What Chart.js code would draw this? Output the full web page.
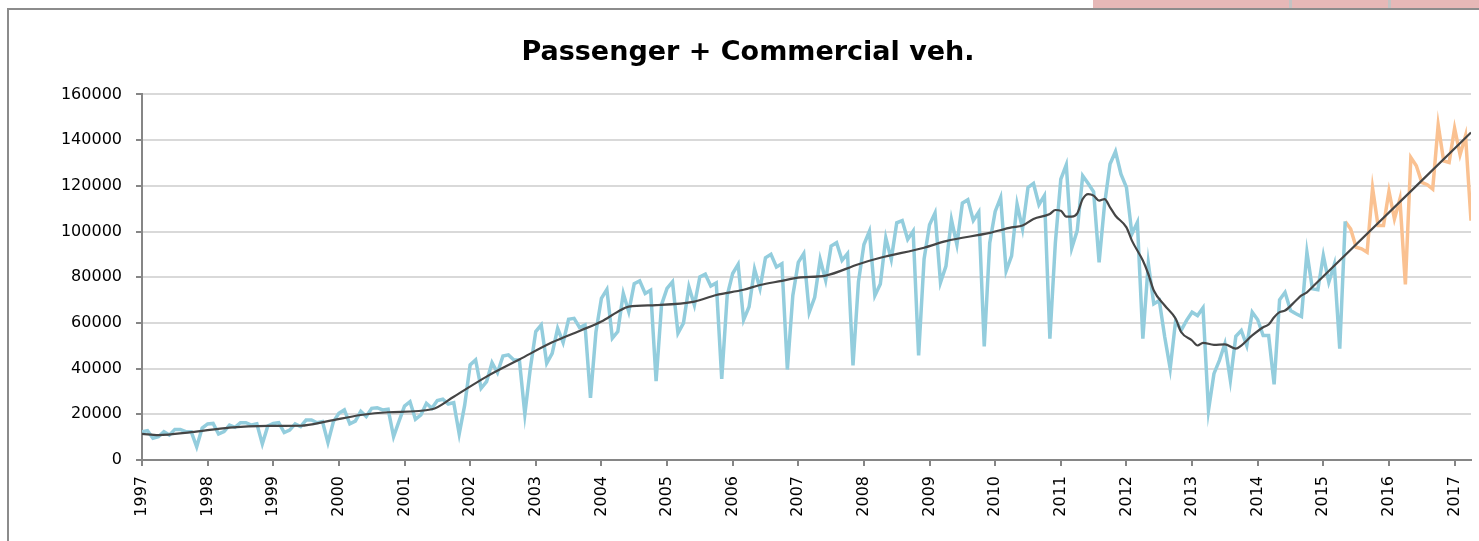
<!DOCTYPE html>
<html>
<head>
<meta charset="utf-8">
<script src="https://cdn.jsdelivr.net/npm/chart.js@4/dist/chart.umd.min.js"></script>
<style>
  body { margin: 0; background: #fff; overflow: hidden; }
  #frame { position: absolute; left: 7px; top: 8px; width: 2000px; height: 1000px;
           border-left: 2px solid #8c8c8c; border-top: 2px solid #8c8c8c; }
  #pink { position: absolute; left: 1093px; top: 0; width: 386px; height: 8px; background: #e6b8b7; }
  .sep { position: absolute; top: 0; width: 3px; height: 8px; background: #c3c3c3; }
  #myChart { position: absolute; left: 0; top: 0; }
</style>
</head>
<body>
<div id="frame"></div>
<div id="pink"></div>
<div class="sep" style="left:1289px"></div>
<div class="sep" style="left:1388px"></div>
<canvas id="myChart" width="1479" height="541"></canvas>
<script>
const canvas = document.getElementById('myChart').getContext('2d');

// one tick per january, months counted from Jan 1997
const yearLabels = ['1997','1998','1999','2000','2001','2002','2003','2004','2005','2006',
  '2007','2008','2009','2010','2011','2012','2013','2014','2015','2016','2017'];

// monthly production, Jan 1997 .. month 220
const actual = [
  12400,12800,9500,10200,12400,10900,13400,13400,12400,12400,5800,14000,
  15800,16000,11400,12400,15300,14300,16300,16300,15300,15800,7000,14900,
  16000,16300,12000,13100,15800,14600,17500,17500,16300,16800,7600,16800,
  20400,21900,15800,17000,21300,19000,22600,22900,21900,22200,10200,17000,
  23600,25500,17800,19700,24800,22600,26000,26600,24500,25100,11400,24000,
  41600,43800,31400,34300,42600,38200,45500,46000,43800,43800,20000,40000,
  56200,59100,42300,46700,57600,51400,61600,62000,58000,59100,27200,56000,
  70700,74600,53300,56200,72900,64900,77200,78400,72900,74300,34500,68000,
  75100,78000,55500,59900,75800,67800,80100,81300,76100,77500,35500,72000,
  81600,85600,61300,67100,83500,75100,88500,90000,84500,85900,39600,72000,
  86500,90300,64600,71200,87800,78700,93600,95100,87400,90300,41400,78000,
  94300,100100,71900,77000,97200,87800,103800,104800,96500,100100,45800,88000,
  103000,108100,77700,84900,105200,94300,112400,113900,104800,108500,49700,95000,
  108800,114900,82700,89300,112000,101100,119300,121000,111700,115700,53100,95000,
  122900,129200,92800,100400,124400,121000,117400,86500,112000,129500,135000,125100,
  119300,98900,104000,53100,86100,68300,69800,53800,40000,61100,56700,61100,
  64700,63200,66600,21700,37800,43600,50900,34900,54100,56700,50100,64700,
  61400,54500,54500,33100,70100,73400,65400,64000,62800,90900,74900,74500,
  89500,77800,85500,48700,104400
];

// forecast part, starts on the last actual month
const forecastStart = 220;
const forecast = [
  104400,101100,93100,92400,90900,119000,102600,102600,117600,105500,114200,76800,
  132400,128800,121500,120500,118600,146700,130900,130200,145200,133600,141900,104700
];

// trend line
const trendMonths = [0,3,9,16,23,29,34,40,45,53,57,63,69,75,80,84,87,89,94,101,105,110,113,117,120,
  125,131,135,143,147,155,159,161,163,166,167,168,169,170,171,172,173,174,175,176,177,178,180,181,
  183,184,185,187,189,190,192,193,194,196,198,200,201,203,205,206,207,208,209,211,212,213,214,243];
const trendValues = [11400,10900,12200,14200,14900,15000,17000,19700,20900,22200,27700,36500,44000,
  51500,56500,60600,64900,67100,67800,69300,72200,74500,76600,78400,79800,80700,85700,88500,92900,
  95800,99400,101800,102600,105500,107700,109400,109100,106500,106500,107900,114200,116400,115700,
  113500,114200,110600,106900,101800,96000,87300,81400,74200,67600,61800,56000,52300,50100,51300,
  50400,50600,48700,50100,54500,58100,59300,62500,64700,65400,69800,72000,73400,75700,143300];

const lastMonth = forecastStart + forecast.length - 1;

const data = {
  datasets: [{
    label: 'Trend',
    data: trendMonths.map((m, k) => ({ x: m, y: trendValues[k] })),
    borderColor: '#454545',
    borderWidth: 2.2,
    cubicInterpolationMode: 'monotone',
    pointRadius: 0
  }, {
    label: 'Actual',
    data: actual.map((v, i) => ({ x: i, y: v })),
    borderColor: '#93cddd',
    borderWidth: 3.5,
    pointRadius: 0
  }, {
    label: 'Forecast',
    data: forecast.map((v, k) => ({ x: forecastStart + k, y: v })),
    borderColor: '#fac191',
    borderWidth: 3.5,
    pointRadius: 0
  }]
};

const tickFont = { family: 'DejaVu Sans', size: 16 };

const config = {
  type: 'line',
  data: data,
  options: {
    responsive: false,
    animation: false,
    layout: { padding: { left: 25, right: 8, top: 30, bottom: 0 } },
    plugins: {
      legend: { display: false },
      tooltip: { enabled: false },
      title: {
        display: true,
        text: 'Passenger + Commercial veh.',
        color: '#000',
        font: { family: 'DejaVu Sans', size: 27, weight: 'bold', lineHeight: 1.2 },
        padding: { top: 7, bottom: 25 }
      }
    },
    scales: {
      x: {
        type: 'linear',
        min: 0,
        max: lastMonth,
        afterFit: function(scale) {
          scale.height = 81;
          scale.paddingLeft = 0;
          scale.paddingRight = 0;
        },
        afterBuildTicks: function(axis) {
          axis.ticks = yearLabels.map((_, k) => ({ value: k * 12 }));
        },
        ticks: {
          autoSkip: false,
          minRotation: 90,
          maxRotation: 90,
          padding: 10,
          color: '#000',
          font: tickFont,
          callback: function(value) { return yearLabels[Math.round(value / 12)]; }
        },
        grid: { drawOnChartArea: false, drawTicks: true, tickLength: 6, color: '#868686', lineWidth: 2 },
        border: { display: true, color: '#868686', width: 2 }
      },
      y: {
        min: 0,
        max: 160000,
        afterFit: function(scale) { scale.width = 117; },
        ticks: {
          stepSize: 20000,
          padding: 14,
          color: '#000',
          font: tickFont,
          callback: function(value) { return String(value); }
        },
        grid: { color: '#d9d9d9', lineWidth: 2, tickLength: 6, tickColor: '#868686' },
        border: { display: true, color: '#868686', width: 2 }
      }
    }
  }
};

const myChart = new Chart(canvas, config);
</script>
</body>
</html>
